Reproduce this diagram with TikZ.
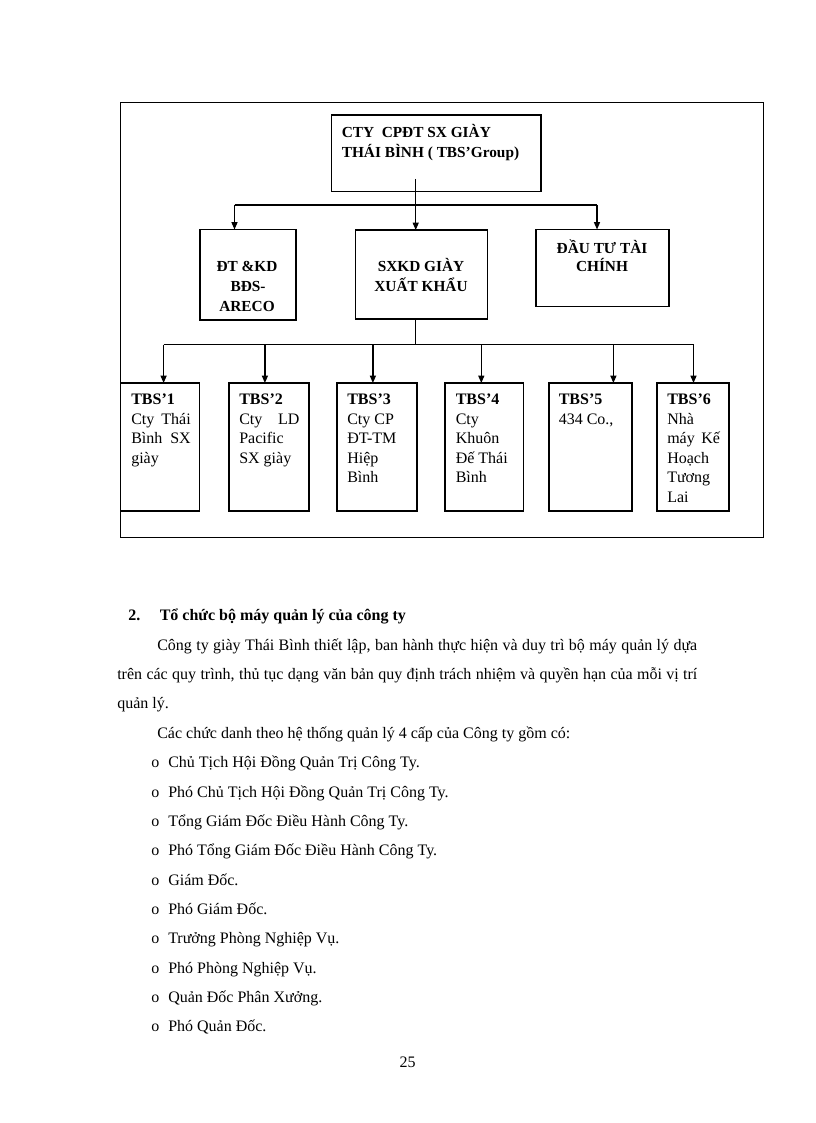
\documentclass[tikz,border=0pt]{standalone}
\usepackage{fontspec}
\setmainfont{Liberation Serif}
\usetikzlibrary{arrows.meta}
\newcommand\spr[2]{\makebox[#1][s]{#2}}
\begin{document}
\begin{tikzpicture}[x=0.75pt,y=-0.75pt,
  every node/.style={font=\fontsize{12}{14}\selectfont},
  bx/.style={draw, line width=1.1pt, inner sep=0pt, outer sep=0pt},
  frame/.style={draw, line width=0.7pt, inner sep=0pt, outer sep=0pt},
  ln/.style={line width=0.9pt},
  arr/.style={ln, -{Triangle[length=5.5pt,width=4.5pt]}},
  tx/.style={anchor=base west, inner sep=0pt},
  tc/.style={anchor=base, inner sep=0pt},
  bf/.style={font=\fontsize{12}{14}\selectfont\bfseries},
  hb/.style={font=\fontsize{11.5}{14}\selectfont\bfseries},
  ]
\useasboundingbox (0,0) rectangle (816,1123);
\fill[white] (0,0) rectangle (816,1123);

% frame
\node[frame, minimum width=643*0.75pt, minimum height=435*0.75pt] (fr) at (442,319.5) {};

% boxes
\node[bx, minimum width=209.5*0.75pt, minimum height=76.5*0.75pt] (top) at (436.25,153.25) {};
\node[bx, minimum width=96*0.75pt, minimum height=90.5*0.75pt] (dt) at (248,274.75) {};
\node[bx, minimum width=131.6*0.75pt, minimum height=89*0.75pt] (sx) at (421.5,274.5) {};
\node[bx, minimum width=133*0.75pt, minimum height=77*0.75pt] (dtc) at (602.5,268) {};

\node[bx, minimum width=79*0.75pt, minimum height=128*0.75pt] (t1) at (160,447) {};
\node[bx, minimum width=80*0.75pt, minimum height=128*0.75pt] (t2) at (269,447) {};
\node[bx, minimum width=80*0.75pt, minimum height=128*0.75pt] (t3) at (377,447) {};
\node[bx, minimum width=78.5*0.75pt, minimum height=128*0.75pt] (t4) at (484.25,447) {};
\node[bx, minimum width=83*0.75pt, minimum height=128*0.75pt] (t5) at (590.5,447) {};
\node[bx, minimum width=72*0.75pt, minimum height=128*0.75pt] (t6) at (693,447) {};

% box texts
\node[tx,hb] (topa) at (341.5,138) {CTY\ \ CPĐT SX GIÀY};
\node[tx,hb] (topb) at (341.5,157.5) {THÁI BÌNH ( TBS’Group)};

\node[tc,hb] (dt1) at (247,272) {ĐT \&KD};
\node[tc,hb] (dt2) at (248,291.5) {BĐS-};
\node[tc,hb] (dt3) at (247,311) {ARECO};

\node[tc,hb] (sx1) at (421,272) {SXKD GIÀY};
\node[tc,hb] (sx2) at (421,291) {XUẤT KHẨU};

\node[tc,hb] (c1) at (602,253) {ĐẦU TƯ TÀI};
\node[tc,hb] (c2) at (602,272) {CHÍNH};

\node[tx,bf] (t1a) at (131,404.5) {TBS’1};
\node[tx] (t1b) at (131,424) {\spr{44.6pt}{Cty Thái}};
\node[tx] (t1c) at (131,443.5) {\spr{44.6pt}{Bình SX}};
\node[tx] (t1d) at (131,463) {giày};

\node[tx,bf] (t2a) at (239,404.5) {TBS’2};
\node[tx] (t2b) at (239,424) {\spr{45.2pt}{Cty LD}};
\node[tx] (t2c) at (239,443.5) {Pacific};
\node[tx] (t2d) at (239,463) {SX giày};

\node[tx,bf] (t3a) at (347,404.5) {TBS’3};
\node[tx] (t3b) at (347,424) {Cty CP};
\node[tx] (t3c) at (347,443.5) {ĐT-TM};
\node[tx] (t3d) at (347,463) {Hiệp};
\node[tx] (t3e) at (347,482.5) {Bình};

\node[tx,bf] (t4a) at (455.5,404.5) {TBS’4};
\node[tx] (t4b) at (455.5,424) {Cty};
\node[tx] (t4c) at (455.5,443.5) {Khuôn};
\node[tx] (t4d) at (455.5,463) {Đế Thái};
\node[tx] (t4e) at (455.5,482.5) {Bình};

\node[tx,bf] (t5a) at (558.5,404.5) {TBS’5};
\node[tx] (t5b) at (558.5,424) {434 Co.,};

\node[tx,bf] (t6a) at (667,404.5) {TBS’6};
\node[tx] (t6b) at (667,424) {Nhà};
\node[tx] (t6c) at (667,443.5) {\spr{39.5pt}{máy Kế}};
\node[tx] (t6d) at (667,463) {Hoạch};
\node[tx] (t6e) at (667,482.5) {Tương};
\node[tx] (t6f) at (667,502) {Lai};

% connectors, upper level
\coordinate (s1) at (415.7,179);
\coordinate (j1) at (415.7,205);
\coordinate (bl) at (234.5,205);
\coordinate (br) at (597,205);
\draw[ln] (s1) -- (j1);
\draw[ln] (bl) -- (br);
\draw[arr] (bl) -- (bl |- dt.north);
\draw[arr] (j1) -- (j1 |- sx.north);
\draw[arr] (br) -- (br |- dtc.north);

% connectors, lower level
\coordinate (j2) at (415.7,344.5);
\coordinate (a1) at (163.6,344.5);
\coordinate (a2) at (264.9,344.5);
\coordinate (a3) at (372.9,344.5);
\coordinate (a4) at (481.3,344.5);
\coordinate (a5) at (613.4,344.5);
\coordinate (a6) at (693.5,344.5);
\draw[ln] (sx.south -| j2) -- (j2);
\draw[ln] (a1) -- (a6);
\draw[arr] (a1) -- (a1 |- t1.north);
\draw[arr] (a2) -- (a2 |- t2.north);
\draw[arr] (a3) -- (a3 |- t3.north);
\draw[arr] (a4) -- (a4 |- t4.north);
\draw[arr] (a5) -- (a5 |- t5.north);
\draw[arr] (a6) -- (a6 |- t6.north);

% body text
\node[tx,bf] (h1) at (128,620.7) {2.};
\node[tx,bf] (h2) at (159.5,620.7) {Tổ chức bộ máy quản lý của công ty};
\node[tx] (p1) at (157,650.7) {\spr{405pt}{Công ty giày Thái Bình thiết lập, ban hành thực hiện và duy trì bộ máy quản lý dựa}};
\node[tx] (p2) at (117,679.7) {\spr{435pt}{trên các quy trình, thủ tục dạng văn bản quy định trách nhiệm và quyền hạn của mỗi vị trí}};
\node[tx] (p3) at (117,708.7) {quản lý.};
\node[tx] (p4) at (157,738) {Các chức danh theo hệ thống quản lý 4 cấp của Công ty gồm có:};

\foreach \t [count=\i from 0] in {Chủ Tịch Hội Đồng Quản Trị Công Ty.,
  Phó Chủ Tịch Hội Đồng Quản Trị Công Ty.,
  Tổng Giám Đốc Điều Hành Công Ty.,
  Phó Tổng Giám Đốc Điều Hành Công Ty.,
  Giám Đốc.,
  Phó Giám Đốc.,
  Trưởng Phòng Nghiệp Vụ.,
  Phó Phòng Nghiệp Vụ.,
  Quản Đốc Phân Xưởng.,
  Phó Quản Đốc.} {
  \node[tx] (bo\i) at (151,767.7+29.33*\i) {o};
  \node[tx] (bt\i) at (168,767.7+29.33*\i) {\t};
}

\node[tc] (pg) at (407.5,1067) {25};
\end{tikzpicture}
\end{document}
